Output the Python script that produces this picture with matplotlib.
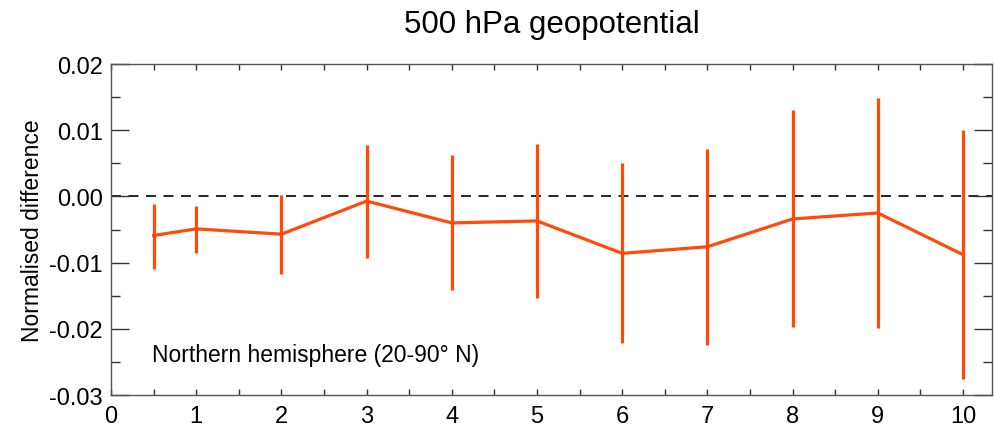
import matplotlib
matplotlib.use('Agg')
import matplotlib.pyplot as plt
from matplotlib.ticker import MultipleLocator, FormatStrFormatter

plt.rcParams['font.family'] = ['Liberation Sans', 'DejaVu Sans']

# forecast step (x), normalised difference and error bar ends
steps = [0.5, 1, 2, 3, 4, 5, 6, 7, 8, 9, 10]
diff = [-0.0059, -0.0049, -0.0057, -0.0007, -0.0040, -0.0037,
        -0.0086, -0.0076, -0.0034, -0.0025, -0.0088]
err_hi = [-0.0011, -0.0014, 0.0002, 0.0077, 0.0063, 0.0080,
          0.0050, 0.0072, 0.0130, 0.0148, 0.0100]
err_lo = [-0.0109, -0.0085, -0.0117, -0.0093, -0.0141, -0.0153,
          -0.0221, -0.0225, -0.0197, -0.0199, -0.0276]

col = '#ff4a0a'

fig = plt.figure(figsize=(9.94, 4.31), dpi=100)
ax = fig.add_axes([0.1117, 0.0812, 0.8863, 0.7678])

ax.axhline(0, color='black', lw=1.2, ls=(0, (6, 4.5)), zorder=1)
ax.plot(steps, diff, color=col, lw=2.3, zorder=3)
ax.vlines(steps, err_lo, err_hi, color=col, lw=2.3, zorder=3)

ax.set_xlim(0, 10.34)
ax.set_ylim(-0.03, 0.02)
ax.xaxis.set_major_locator(MultipleLocator(1))
ax.xaxis.set_minor_locator(MultipleLocator(0.5))
ax.yaxis.set_major_locator(MultipleLocator(0.01))
ax.yaxis.set_minor_locator(MultipleLocator(0.005))
ax.yaxis.set_major_formatter(FormatStrFormatter('%.2f'))

ax.tick_params(axis='both', which='both', direction='in', top=True, right=True,
               labelsize=17, colors='#333333', labelcolor='black')
ax.tick_params(axis='y', which='major', length=13, width=1, pad=6)
ax.tick_params(axis='y', which='minor', length=6.5, width=1)
ax.tick_params(axis='x', which='both', length=4, width=1, pad=7)
for s in ax.spines.values():
    s.set_color('#555555')
    s.set_linewidth(1)

ax.set_ylabel('Normalised difference', fontsize=16.5, labelpad=4)
ax.set_title('500 hPa geopotential', fontsize=22.5, pad=23)
ax.text(0.48, -0.0239, 'Northern hemisphere (20-90° N)', fontsize=16.5,
        va='center', ha='left')

fig.savefig('out.png', dpi=100)
